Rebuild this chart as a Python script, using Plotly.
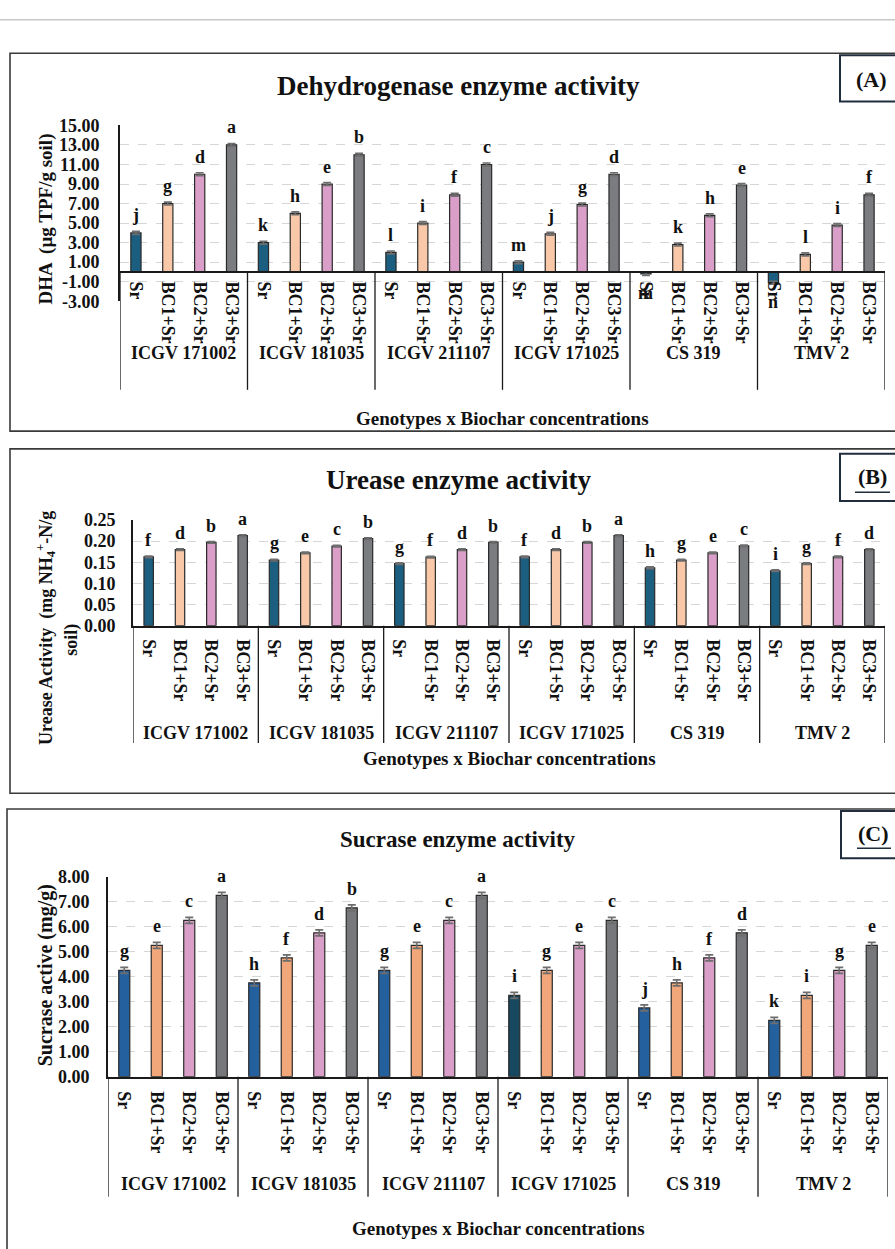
import plotly.graph_objects as go

W, H = 895, 1249

# ---------------- data ----------------
genotypes = ["ICGV 171002", "ICGV 181035", "ICGV 211107", "ICGV 171025", "CS 319", "TMV 2"]
treatments = ["Sr", "BC1+Sr", "BC2+Sr", "BC3+Sr"]

# (A) Dehydrogenase (DHA, µg TPF/g soil)
dha_sr = [4.0, 3.0, 2.0, 1.0, -0.2, -1.1]
dha_bc1 = [7.0, 6.0, 5.0, 3.9, 2.8, 1.8]
dha_bc2 = [10.0, 9.0, 7.9, 6.9, 5.8, 4.8]
dha_bc3 = [13.0, 12.0, 11.0, 10.0, 8.9, 7.9]
dha_err = 0.15
dha_let_sr = ["j", "k", "l", "m", "m", "n"]
dha_let_bc1 = ["g", "h", "i", "j", "k", "l"]
dha_let_bc2 = ["d", "e", "f", "g", "h", "i"]
dha_let_bc3 = ["a", "b", "c", "d", "e", "f"]
dha_tickvals = [-3, -1, 1, 3, 5, 7, 9, 11, 13, 15]
dha_ticktext = ["-3.00", "-1.00", "1.00", "3.00", "5.00", "7.00", "9.00", "11.00", "13.00", "15.00"]

# (B) Urease (mg NH4+-N/g soil)
ure_sr = [0.163, 0.155, 0.147, 0.163, 0.137, 0.130]
ure_bc1 = [0.180, 0.172, 0.162, 0.180, 0.155, 0.147]
ure_bc2 = [0.197, 0.188, 0.180, 0.197, 0.172, 0.163]
ure_bc3 = [0.213, 0.206, 0.197, 0.213, 0.189, 0.180]
ure_err = 0.002
ure_let_sr = ["f", "g", "g", "f", "h", "i"]
ure_let_bc1 = ["d", "e", "f", "d", "g", "g"]
ure_let_bc2 = ["b", "c", "d", "b", "e", "f"]
ure_let_bc3 = ["a", "b", "b", "a", "c", "d"]
ure_tickvals = [0, 0.05, 0.10, 0.15, 0.20, 0.25]
ure_ticktext = ["0.00", "0.05", "0.10", "0.15", "0.20", "0.25"]

# (C) Sucrase (mg/g)
suc_sr = [4.25, 3.75, 4.25, 3.25, 2.75, 2.25]
suc_bc1 = [5.25, 4.75, 5.25, 4.25, 3.75, 3.25]
suc_bc2 = [6.25, 5.75, 6.25, 5.25, 4.75, 4.25]
suc_bc3 = [7.25, 6.75, 7.25, 6.25, 5.75, 5.25]
suc_err = 0.12
suc_let_sr = ["g", "h", "g", "i", "j", "k"]
suc_let_bc1 = ["e", "f", "e", "g", "h", "i"]
suc_let_bc2 = ["c", "d", "c", "e", "f", "g"]
suc_let_bc3 = ["a", "b", "a", "c", "d", "e"]
suc_tickvals = [0, 1, 2, 3, 4, 5, 6, 7, 8]
suc_ticktext = ["0.00", "1.00", "2.00", "3.00", "4.00", "5.00", "6.00", "7.00", "8.00"]

# ---------------- styles ----------------
FONT = "Liberation Serif"
colors_ab = ["#1b5e80", "#f9c8a8", "#d99fc8", "#7b7c80"]
colors_c = ["#245f9e", "#f2a77b", "#da9fc8", "#77787b"]
sr_colors_c = ["#245f9e", "#245f9e", "#245f9e", "#17485f", "#245f9e", "#245f9e"]


def px(x):
    return x / W


def py(y):
    return 1 - y / H


def clamp(v):
    return max(0.0, min(1.0, v))


panels = [
    dict(key="", vals=[dha_sr, dha_bc1, dha_bc2, dha_bc3],
         lets=[dha_let_sr, dha_let_bc1, dha_let_bc2, dha_let_bc3], err=dha_err,
         rng=[-3, 15], tv=dha_tickvals, tt=dha_ticktext,
         xpx=(120, 885), ypx=(117.3, 296), sep_bottom=386, group_y=349, xt_y=415,
         colors=colors_ab, width=0.32, standoff=15, xstand=5,
         title="Dehydrogenase enzyme activity", title_xy=(458, 77), title_size=27,
         frame=(10, 44, 905, 428), lab="(A)", labbox=(840, 46, 905, 93), lab_xy=(871, 71),
         underline=None),
    dict(key="2", vals=[ure_sr, ure_bc1, ure_bc2, ure_bc3],
         lets=[ure_let_sr, ure_let_bc1, ure_let_bc2, ure_let_bc3], err=ure_err,
         rng=[0, 0.25], tv=ure_tickvals, tt=ure_ticktext,
         xpx=(133, 885), ypx=(518.3, 625.7), sep_bottom=745, group_y=735, xt_y=761,
         colors=colors_ab, width=0.30, standoff=12, xstand=8,
         title="Urease enzyme activity", title_xy=(459, 478), title_size=27,
         frame=(10, 446, 905, 796), lab="(B)", labbox=(840, 451, 905, 499), lab_xy=(872, 474),
         underline=(855, 890, 490)),
    dict(key="3", vals=[suc_sr, suc_bc1, suc_bc2, suc_bc3],
         lets=[suc_let_sr, suc_let_bc1, suc_let_bc2, suc_let_bc3], err=suc_err,
         rng=[0, 8], tv=suc_tickvals, tt=suc_ticktext,
         xpx=(108, 888), ypx=(880.7, 1084), sep_bottom=1206, group_y=1193, xt_y=1238,
         colors=colors_c, width=0.34, standoff=13, xstand=9,
         title="Sucrase enzyme activity", title_xy=(458, 843), title_size=23,
         frame=(7, 812, 905, 1265), lab="(C)", labbox=(841, 814, 905, 862), lab_xy=(873, 837),
         underline=(857, 891, 852)),
]

fig = go.Figure()
shapes = []
annotations = []

# page separator line at top
shapes.append(dict(type="line", xref="paper", yref="paper", x0=0, x1=1, y0=py(10), y1=py(10),
                   line=dict(color="#c8c8c8", width=1.5)))

n_t = len(treatments)
n_g = len(genotypes)
cat_labels = [t for g in genotypes for t in treatments]
cat_pos = list(range(n_g * n_t))

for p in panels:
    xa = "x" + p["key"]
    ya = "y" + p["key"]
    for ti, tname in enumerate(treatments):
        xs = [gi * n_t + ti for gi in range(n_g)]
        if p["key"] == "3" and ti == 0:
            mcol = sr_colors_c
        else:
            mcol = p["colors"][ti]
        fig.add_trace(go.Bar(
            x=xs, y=p["vals"][ti], width=p["width"], xaxis=xa, yaxis=ya,
            name=tname, showlegend=False,
            marker=dict(color=mcol, line=dict(color="#2a2a2a", width=1.2)),
            error_y=dict(type="constant", value=p["err"], color="#6e6e6e", thickness=1.6, width=4),
        ))
        # significance letters
        for gi in range(n_g):
            v = p["vals"][ti][gi]
            if v >= 0:
                annotations.append(dict(x=xs[gi], y=v + p["err"], xref=xa, yref=ya, text=p["lets"][ti][gi],
                                        showarrow=False, yanchor="bottom", yshift=4,
                                        font=dict(family=FONT, size=18, color="#111", weight="bold")))
            else:
                annotations.append(dict(x=xs[gi], y=v - p["err"], xref=xa, yref=ya, text=p["lets"][ti][gi],
                                        showarrow=False, yanchor="top", yshift=-6,
                                        font=dict(family=FONT, size=18, color="#111", weight="bold")))

    y0p, y1p = clamp(py(p["ypx"][1])), clamp(py(p["ypx"][0]))
    xdom = [clamp(px(p["xpx"][0])), clamp(px(p["xpx"][1]))]
    r0, r1 = p["rng"]
    zero_pos = y0p + (0 - r0) / (r1 - r0) * (y1p - y0p)
    xaxis_cfg = dict(
        domain=xdom, range=[-0.5, n_g * n_t - 0.5], tickvals=cat_pos, ticktext=cat_labels,
        tickangle=90, tickfont=dict(family=FONT, size=18, color="#111", weight="bold"),
        showline=True, linecolor="#1a1a1a", linewidth=2, showgrid=False, zeroline=False,
        ticks="", ticklabelstandoff=p["xstand"], fixedrange=True,
    )
    if r0 < 0:
        xaxis_cfg.update(anchor="free", position=zero_pos)
    else:
        xaxis_cfg.update(anchor=ya)
    yaxis_cfg = dict(
        domain=[y0p, y1p], range=[r0, r1], tickvals=p["tv"], ticktext=p["tt"],
        tickfont=dict(family=FONT, size=18, color="#111", weight="bold"),
        showline=True, linecolor="#1a1a1a", linewidth=2, showgrid=True, gridcolor="#d6d6d6",
        griddash="dash", gridwidth=1, zeroline=False, ticks="", anchor=xa,
        ticklabelstandoff=p["standoff"], fixedrange=True,
    )
    fig.update_layout(**{"xaxis" + p["key"]: xaxis_cfg, "yaxis" + p["key"]: yaxis_cfg})

    # group separators (multi-level category axis)
    for b in range(n_g + 1):
        xb = b * n_t - 0.5
        shapes.append(dict(type="line", xref=xa, yref="paper", x0=xb, x1=xb,
                           y0=zero_pos, y1=py(p["sep_bottom"]),
                           line=dict(color="#1a1a1a", width=1.3)))
    # group labels
    for gi, g in enumerate(genotypes):
        annotations.append(dict(x=gi * n_t + (n_t - 1) / 2, y=py(p["group_y"]), xref=xa, yref="paper",
                                text=g, showarrow=False, yanchor="middle",
                                font=dict(family=FONT, size=18, color="#111", weight="bold")))
    # x-axis title
    annotations.append(dict(x=(xdom[0] + xdom[1]) / 2, y=py(p["xt_y"]), xref="paper", yref="paper",
                            text="Genotypes x Biochar concentrations", showarrow=False, yanchor="middle",
                            font=dict(family=FONT, size=19, color="#111", weight="bold")))
    # chart title
    annotations.append(dict(x=px(p["title_xy"][0]), y=py(p["title_xy"][1]), xref="paper", yref="paper",
                            text=p["title"], showarrow=False, xanchor="center", yanchor="middle",
                            font=dict(family=FONT, size=p["title_size"], color="#111", weight="bold")))
    # panel frame
    fx0, fy0, fx1, fy1 = p["frame"]
    shapes.append(dict(type="rect", xref="paper", yref="paper", x0=px(fx0), x1=px(fx1),
                       y0=py(fy1), y1=py(fy0), line=dict(color="#3a3a3a", width=1.6)))
    # panel label box
    bx0, by0, bx1, by1 = p["labbox"]
    shapes.append(dict(type="rect", xref="paper", yref="paper", x0=px(bx0), x1=px(bx1),
                       y0=py(by1), y1=py(by0), line=dict(color="#1f2d3d", width=2)))
    annotations.append(dict(x=px(p["lab_xy"][0]), y=py(p["lab_xy"][1]), xref="paper", yref="paper",
                            text=p["lab"], showarrow=False, xanchor="center", yanchor="middle",
                            font=dict(family=FONT, size=22, color="#111", weight="bold")))
    if p["underline"]:
        ux0, ux1, uy = p["underline"]
        shapes.append(dict(type="line", xref="paper", yref="paper", x0=px(ux0), x1=px(ux1),
                           y0=py(uy), y1=py(uy), line=dict(color="#1f2d3d", width=1.5)))

# y-axis titles
annotations.append(dict(x=px(46), y=py(213), xref="paper", yref="paper", text="DHA  (µg TPF/g soil)",
                        textangle=-90, showarrow=False, xanchor="center", yanchor="middle",
                        font=dict(family=FONT, size=19, color="#111", weight="bold")))
annotations.append(dict(x=px(46), y=py(628), xref="paper", yref="paper",
                        text="Urease Activity  (mg NH<sub>4</sub><sup>+</sup>-N/g",
                        textangle=-90, showarrow=False, xanchor="center", yanchor="middle",
                        font=dict(family=FONT, size=18, color="#111", weight="bold")))
annotations.append(dict(x=px(72), y=py(640), xref="paper", yref="paper", text="soil)",
                        textangle=-90, showarrow=False, xanchor="center", yanchor="middle",
                        font=dict(family=FONT, size=18, color="#111", weight="bold")))
annotations.append(dict(x=px(45), y=py(981), xref="paper", yref="paper", text="Sucrase active (mg/g)",
                        textangle=-90, showarrow=False, xanchor="center", yanchor="middle",
                        font=dict(family=FONT, size=20, color="#111", weight="bold")))

fig.update_layout(
    width=W, height=H, margin=dict(l=0, r=0, t=0, b=0),
    paper_bgcolor="white", plot_bgcolor="white",
    barmode="overlay", showlegend=False,
    shapes=shapes, annotations=annotations,
    font=dict(family=FONT, color="#111"),
)

fig.write_html("out.html", config={"displayModeBar": False},
               post_script="document.body.style.margin='0';document.body.style.overflow='hidden';")
